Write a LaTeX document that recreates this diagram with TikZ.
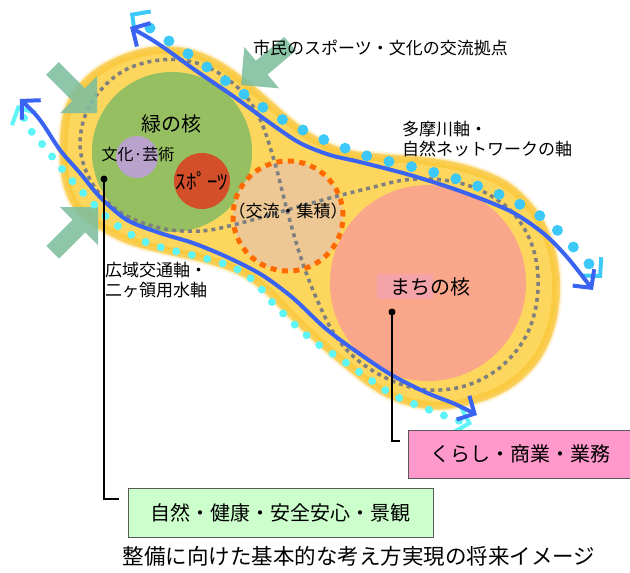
\documentclass[tikz,border=0pt]{standalone}
\usepackage{fontspec}
\setmainfont{Noto Sans CJK JP}
\usetikzlibrary{arrows.meta,calc}
\definecolor{blobY}{HTML}{FDD65E}
\definecolor{blobE}{HTML}{F9C22A}
\definecolor{greenC}{HTML}{95BF60}
\definecolor{pinkC}{HTML}{F9A68A}
\definecolor{midC}{HTML}{EDC895}
\definecolor{orangeD}{HTML}{FF6A00}
\definecolor{grayD}{HTML}{7F7F7F}
\definecolor{purpleC}{HTML}{B9A2CC}
\definecolor{redC}{HTML}{D24F2A}
\definecolor{blueL}{HTML}{3B63F2}
\definecolor{cyanU}{HTML}{3CC8F8}
\definecolor{cyanL}{HTML}{5EF4F8}
\definecolor{arrowG}{HTML}{7DBE9D}
\definecolor{boxPink}{HTML}{FF99CC}
\definecolor{boxGreen}{HTML}{CCFFCC}
\definecolor{labelPink}{HTML}{F4A3A8}
\tikzset{
  bb/.tip={Straight Barb[length=13pt,width=27pt,line width=4pt]},
  blueline/.style={blueL, line width=4pt, bb-bb},
  dotsU/.style={cyanU, line width=11pt, line cap=round, dash pattern=on 0pt off 23pt},
  dotsL/.style={cyanL, line width=8pt, line cap=round, dash pattern=on 0pt off 16pt},
  cyantip/.style={line width=4pt, -bb},
  garrow/.style={fill=arrowG, opacity=0.88},
  lbl/.style={inner sep=0pt, text=black},
  dot/.style={circle, fill=black, inner sep=0pt, minimum size=7pt},
  box/.style={draw=black!65, line width=0.8pt, inner sep=0pt, text=black},
  leader/.style={black, line width=1.4pt},
}
\begin{document}
\begin{tikzpicture}[x=1pt,y=-1pt, font=\fontsize{17}{20}\selectfont]
\useasboundingbox (0,0) rectangle (630,573);
\def\blobpath{plot[smooth cycle, tension=0.6] coordinates {(64,135) (70,105) (88,80) (115,62) (150,51) (185,52) (215,63) (243,82) (268,103) (292,124) (315,140) (345,153) (385,158) (425,161) (470,170) (510,188) (540,222) (555,268) (553,318) (535,360) (500,390) (450,405) (410,402) (378,388) (345,363) (315,337) (290,313) (265,288) (240,271) (205,259) (165,250) (128,240) (98,224) (76,205) (65,175)}}
% yellow blob with soft edge
\draw[blobE, line width=12pt, opacity=0.2] \blobpath;
\draw[blobE, line width=6pt, opacity=0.45] \blobpath;
\fill[blobY] \blobpath;
\draw[blobE, line width=8pt, opacity=0.55] \blobpath;
% cores
\fill[greenC] (172,152) circle[radius=80pt];
\fill[pinkC] (428,283) circle[radius=98pt];
\fill[midC] (288,216) circle[radius=55pt];
% figure-eight dotted outline
\draw[grayD, line width=3.5pt, dash pattern=on 4pt off 4pt] plot[smooth cycle, tension=0.6] coordinates {(233,225) (200,231) (160,228) (120,212) (92,183) (80,145) (90,105) (120,73) (160,60) (200,64) (235,85) (258,115) (274,160) (287,210) (300,255) (315,295) (335,335) (360,362) (395,382) (430,390) (468,385) (503,365) (528,332) (538,290) (533,248) (513,213) (480,190) (443,180) (405,180) (370,188) (330,198) (280,212)};
\draw[orangeD, line width=5pt, dash pattern=on 6pt off 5.5pt] (288,216) circle[radius=55pt];
\fill[purpleC] (137,157) circle[radius=21pt];
\fill[redC] (202,181) circle[radius=28pt];
% green block arrows
\fill[garrow, shift={(97,113)}, rotate=-45] (0,0) -- (-26,-26) -- (-26,-9) -- (-63,-9) -- (-63,9) -- (-26,9) -- (-26,26) -- cycle;
\fill[garrow, shift={(241,85)}, rotate=-140] (0,0) -- (-27,-27) -- (-27,-9) -- (-64,-9) -- (-64,9) -- (-27,9) -- (-27,27) -- cycle;
\fill[garrow, shift={(98,207)}, rotate=45] (0,0) -- (-27,-27) -- (-27,-9) -- (-64,-9) -- (-64,9) -- (-27,9) -- (-27,27) -- cycle;
% axes: upper (cyan dots + blue line)
\coordinate (uA) at (130,13); \coordinate (uA2) at (160,35);
\coordinate (uB) at (602,278); \coordinate (uB2) at (578,252);
\draw[dotsU] plot[smooth] coordinates {(150,28) (160,35) (200,62) (238,90) (278,117) (320,138) (367,156) (413,167) (460,180) (505,197) (546,220) (578,252) (590,265)};
\draw[cyanU, cyantip] ($(uA)!2pt!(uA2)$) -- (uA);
\draw[cyanU, cyantip] ($(uB)!2pt!(uB2)$) -- (uB);
\draw[blueline] plot[smooth] coordinates {(130,27) (160,45) (195,70) (233,96) (270,123) (300,143) (330,155) (360,162) (410,175) (460,191) (510,211) (543,233) (567,257) (593,290)};
% axes: lower
\coordinate (lA) at (17,105); \coordinate (lA2) at (28,127);
\coordinate (lB) at (472,424); \coordinate (lB2) at (448,417);
\draw[dotsL] plot[smooth] coordinates {(24,118) (28,127) (47,150) (67,175) (87,197) (110,220) (137,238) (163,248) (200,257) (233,267) (255,282) (272,302) (293,323) (315,342) (342,360) (368,378) (393,395) (422,407) (448,417) (460,421)};
\draw[cyanL, cyantip] ($(lA)!2pt!(lA2)$) -- (lA);
\draw[cyanL, cyantip] ($(lB)!2pt!(lB2)$) -- (lB);
\draw[blueline] plot[smooth] coordinates {(20,99) (40,120) (60,150) (80,173) (100,197) (127,220) (160,233) (193,243) (227,257) (262,275) (293,298) (325,328) (357,352) (390,374) (425,392) (455,404) (477,415)};
% labels
\node[lbl, anchor=west] (shimin) at (253,48) {市民のスポーツ・文化の交流拠点};
\node[lbl, anchor=west, align=left] (tama) at (402,139) {多摩川軸・\\自然ネットワークの軸};
\node[lbl, anchor=west, align=left] (koiki) at (105,280) {広域交通軸・\\二ヶ領用水軸};
\node[lbl, font=\fontsize{20}{24}\selectfont] (midori) at (171,124) {緑の核};
\node[lbl, font=\fontsize{16}{19}\selectfont] (bunka) at (138,155) {文化·芸術};
\node[lbl, font=\fontsize{21}{24}\selectfont] (sports) at (202,181) {ｽﾎﾟｰﾂ};
\node[lbl] (koryu) at (288,211) {（交流・集積）};
\fill[labelPink] (377,274) rectangle (433,299);
\node[lbl, font=\fontsize{20}{24}\selectfont] (machi) at (430,287) {まちの核};
% boxes
\node[box, fill=boxPink, minimum width=224pt, minimum height=48pt, font=\fontsize{20}{24}\selectfont] (kurashi) at (520,454) {くらし・商業・業務};
\node[box, fill=boxGreen, minimum width=305pt, minimum height=49pt, font=\fontsize{20}{24}\selectfont] (shizen) at (280.5,512.5) {自然・健康・安全安心・景観};
% leaders
\node[dot] (d1) at (104,179) {};
\node[dot] (d2) at (392,312) {};
\coordinate (c1) at (104,499);
\coordinate (c1e) at (119,499);
\coordinate (c2) at (392,441);
\coordinate (c2e) at (400,441);
\draw[leader] (d1.center) -- (c1) -- (c1e);
\draw[leader] (d2.center) -- (c2) -- (c2e);
% caption
\node[lbl, font=\fontsize{21.5}{25}\selectfont] (caption) at (359,556) {整備に向けた基本的な考え方実現の将来イメージ};
\end{tikzpicture}
\end{document}
